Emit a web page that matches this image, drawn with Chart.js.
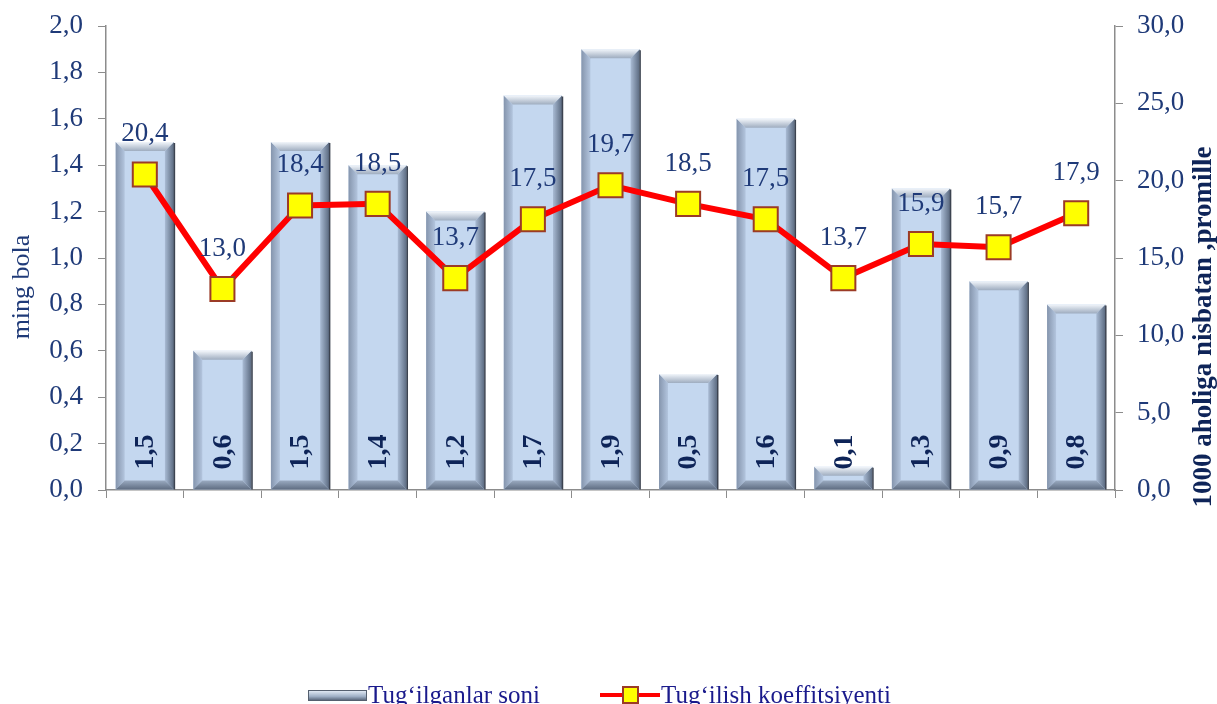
<!DOCTYPE html>
<html>
<head>
<meta charset="utf-8">
<script src="https://cdn.jsdelivr.net/npm/chart.js@4"></script>
<style>
    html, body { margin: 0; padding: 0; background: #ffffff; overflow: hidden; }
    #wrap { position: relative; width: 1217px; height: 704px; }
    #legend { position: absolute; left: 0; top: 681px; width: 1217px; height: 30px;
              font-family: "Liberation Serif", serif; font-size: 25px; color: #1a1a8c; }
    .item { position: absolute; top: 0; white-space: nowrap; }
    .barIcon { position: absolute; left: 0; top: 9px; width: 57px; height: 9px;
               background: linear-gradient(#dfe8f3, #9fb0c6 60%, #5d6b7f); border: 1px solid #55606f; }
    .lineIcon { position: absolute; left: 0; top: 12px; width: 60px; height: 4px; background: #ff0000; }
    .markIcon { position: absolute; left: 22px; top: -7px; width: 13px; height: 14px;
                background: #ffff00; border: 2px solid #9b3b26; }
</style>
</head>
<body>
<div id="wrap">
    <canvas id="chart" width="1217" height="704"></canvas>
    <div id="legend">
        <div class="item" style="left:308px;"><div class="barIcon"></div><span style="margin-left:60px;">Tug‘ilganlar soni</span></div>
        <div class="item" style="left:600px;"><div class="lineIcon"><div class="markIcon"></div></div><span style="margin-left:61px;">Tug‘ilish koeffitsiyenti</span></div>
    </div>
</div>
<script>
const categories = ["1", "2", "3", "4", "5", "6", "7", "8", "9", "10", "11", "12", "13"];
const birthsThousand = [1.5, 0.6, 1.5, 1.4, 1.2, 1.7, 1.9, 0.5, 1.6, 0.1, 1.3, 0.9, 0.8];
const birthRate = [20.4, 13.0, 18.4, 18.5, 13.7, 17.5, 19.7, 18.5, 17.5, 13.7, 15.9, 15.7, 17.9];
const leftTicks = [0, 0.2, 0.4, 0.6, 0.8, 1.0, 1.2, 1.4, 1.6, 1.8, 2.0];
const rightTicks = [0, 5, 10, 15, 20, 25, 30];
const leftTitle = "ming bola";
const rightTitle = "1000 aholiga nisbatan ,promille";

const tickColor = "#1f3a78";
const serif = "'Liberation Serif', 'Times New Roman', serif";

function fmt(v) {
    return v.toFixed(1).replace(".", ",");
}

function polygon(ctx, pts, fill) {
    ctx.beginPath();
    ctx.moveTo(pts[0][0], pts[0][1]);
    for (let i = 1; i < pts.length; i++) ctx.lineTo(pts[i][0], pts[i][1]);
    ctx.closePath();
    ctx.fillStyle = fill;
    ctx.fill();
}

// bevel edges on top of each bar
const bevelPlugin = {
    id: "bevel",
    afterDatasetDraw(chart, args) {
        if (args.index !== 0) return;
        const ctx = chart.ctx;
        ctx.save();
        args.meta.data.forEach(bar => {
            const p = bar.getProps(["x", "y", "base", "width"], true);
            const l = p.x - p.width / 2, r = p.x + p.width / 2, t = p.y, b = p.base;
            const d = Math.min(9, (b - t) / 2);

            let g = ctx.createLinearGradient(l, 0, l + d, 0);
            g.addColorStop(0, "#8595ad");
            g.addColorStop(1, "#b3c5de");
            polygon(ctx, [[l, t], [l + d, t + d], [l + d, b - d], [l, b]], g);

            g = ctx.createLinearGradient(r - d, 0, r, 0);
            g.addColorStop(0, "#a9bbd4");
            g.addColorStop(1, "#5b6a80");
            polygon(ctx, [[r, t], [r - d, t + d], [r - d, b - d], [r, b]], g);

            g = ctx.createLinearGradient(0, t, 0, t + d);
            g.addColorStop(0, "#f2f6fb");
            g.addColorStop(1, "#9eacbf");
            polygon(ctx, [[l, t], [r, t], [r - d, t + d], [l + d, t + d]], g);

            g = ctx.createLinearGradient(0, b - d, 0, b);
            g.addColorStop(0, "#9aaac0");
            g.addColorStop(1, "#5f6d82");
            polygon(ctx, [[l, b], [r, b], [r - d, b - d], [l + d, b - d]], g);

            ctx.strokeStyle = "#3c4350";
            ctx.lineWidth = 1.5;
            ctx.beginPath();
            ctx.moveTo(r + 0.5, t + 1);
            ctx.lineTo(r + 0.5, b);
            ctx.stroke();
        });
        ctx.restore();
    }
};

const labelPlugin = {
    id: "valueLabels",
    afterDatasetsDraw(chart) {
        const ctx = chart.ctx;
        ctx.save();

        // bar values, rotated inside the bar bottom
        chart.getDatasetMeta(0).data.forEach((bar, i) => {
            const p = bar.getProps(["x", "base"], true);
            ctx.save();
            ctx.translate(p.x, p.base - 20);
            ctx.rotate(-Math.PI / 2);
            ctx.font = "bold 28px " + serif;
            ctx.fillStyle = "#0e2458";
            ctx.textAlign = "left";
            ctx.textBaseline = "middle";
            ctx.fillText(fmt(birthsThousand[i]), 0, 1);
            ctx.restore();
        });

        // line values above the markers
        chart.getDatasetMeta(1).data.forEach((pt, i) => {
            ctx.font = "27px " + serif;
            ctx.fillStyle = tickColor;
            ctx.textAlign = "center";
            ctx.textBaseline = "alphabetic";
            ctx.fillText(fmt(birthRate[i]), pt.x, pt.y - 33);
        });
        ctx.restore();
    }
};

// axis titles, both reading bottom to top
const titlePlugin = {
    id: "axisTitles",
    afterDraw(chart) {
        const ctx = chart.ctx;
        ctx.save();
        ctx.textAlign = "center";
        ctx.textBaseline = "middle";

        ctx.save();
        ctx.translate(22, 287);
        ctx.rotate(-Math.PI / 2);
        ctx.font = "26px " + serif;
        ctx.fillStyle = tickColor;
        ctx.fillText(leftTitle, 0, 0);
        ctx.restore();

        ctx.save();
        ctx.translate(1204, 327);
        ctx.rotate(-Math.PI / 2);
        ctx.font = "bold 27px " + serif;
        ctx.fillStyle = "#0e2458";
        ctx.fillText(rightTitle, 0, 0);
        ctx.restore();

        ctx.restore();
    }
};

function fixVertical(width) {
    return function (scale) {
        scale.width = width;
        scale.paddingTop = 0;
        scale.paddingBottom = 0;
    };
}

new Chart(document.getElementById("chart"), {
    data: {
        labels: categories,
        datasets: [
            {
                type: "bar",
                label: "Tug‘ilganlar soni",
                data: birthsThousand,
                yAxisID: "y",
                backgroundColor: "#c4d7ef",
                borderWidth: 0,
                barPercentage: 0.75,
                categoryPercentage: 1,
                order: 2
            },
            {
                type: "line",
                label: "Tug‘ilish koeffitsiyenti",
                data: birthRate,
                yAxisID: "y1",
                borderColor: "#ff0000",
                borderWidth: 6,
                tension: 0,
                pointStyle: "rect",
                pointRadius: 17,
                pointBackgroundColor: "#ffff00",
                pointBorderColor: "#9b3b26",
                pointBorderWidth: 2,
                order: 1
            }
        ]
    },
    options: {
        responsive: false,
        animation: false,
        layout: { padding: { top: 26, left: 0, right: 0, bottom: 0 } },
        plugins: {
            legend: { display: false },
            tooltip: { enabled: false }
        },
        scales: {
            x: {
                offset: true,
                grid: { offset: true, drawOnChartArea: false, tickLength: 8, color: "#8c8c8c" },
                border: { color: "#8c8c8c", width: 1.5 },
                ticks: { display: false },
                afterFit(scale) { scale.height = 214; }
            },
            y: {
                position: "left",
                min: 0,
                max: 2,
                afterBuildTicks(scale) { scale.ticks = leftTicks.map(v => ({ value: v })); },
                grid: { drawOnChartArea: false, tickLength: 8, color: "#8c8c8c" },
                border: { color: "#8c8c8c", width: 1.5 },
                ticks: {
                    padding: 15,
                    color: tickColor,
                    font: { family: serif, size: 27 },
                    callback: v => fmt(v)
                },
                afterFit: fixVertical(106)
            },
            y1: {
                position: "right",
                min: 0,
                max: 30,
                afterBuildTicks(scale) { scale.ticks = rightTicks.map(v => ({ value: v })); },
                grid: { drawOnChartArea: false, tickLength: 8, color: "#8c8c8c" },
                border: { color: "#8c8c8c", width: 1.5 },
                ticks: {
                    padding: 14,
                    color: tickColor,
                    font: { family: serif, size: 27 },
                    callback: v => fmt(v)
                },
                afterFit: fixVertical(102)
            }
        }
    },
    plugins: [bevelPlugin, labelPlugin, titlePlugin]
});
</script>
</body>
</html>
